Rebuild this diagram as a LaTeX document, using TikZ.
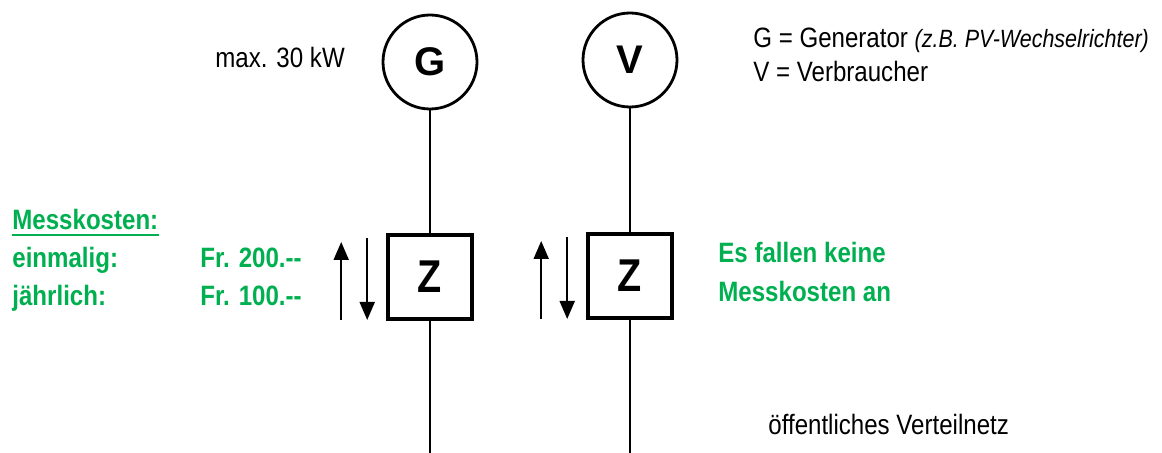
\documentclass[tikz,border=0pt]{standalone}
\usepackage{fontspec}
\setmainfont{Liberation Sans}[FakeStretch=0.86]
\newfontfamily\widefont{Liberation Sans}
\usetikzlibrary{arrows.meta}
\usetikzlibrary{calc}
\definecolor{costgreen}{HTML}{00B050}

\begin{document}
\begin{tikzpicture}[x=0.5pt, y=-0.5pt,
        device/.style={draw, circle, line width=1.4pt, minimum size=47pt, inner sep=0pt, font=\widefont\bfseries\fontsize{20}{20}\selectfont},
        meter/.style={draw, line width=1.8pt, minimum size=42pt, inner sep=0pt, font=\bfseries\fontsize{23}{23}\selectfont},
        note/.style={anchor=base west, inner sep=0pt, font=\fontsize{14}{14}\selectfont},
        cost/.style={note, text=costgreen, font=\bfseries\fontsize{14}{14}\selectfont},
        flow/.style={line width=1pt, -{Triangle[length=9pt,width=7.5pt]}}]
        \useasboundingbox (0,0) rectangle (1162,453);

        \node[device] (G) at (430,62) {G};
        \node[device] (V) at (630,60) {V};
        \node[meter] (ZG) at (430,277) {Z};
        \node[meter] (ZV) at (630,276) {Z};
        \coordinate (netG) at (430,453);
        \coordinate (netV) at (630,453);
        \draw[line width=0.7pt] (G) -- (ZG) -- (netG);
        \draw[line width=0.7pt] (V) -- (ZV) -- (netV);

        \foreach \z in {ZG,ZV} {
            \draw[flow] ($(\z.west)+(-45,43)$) -- ($(\z.west)+(-45,-35)$);
            \draw[flow] ($(\z.west)+(-19,-39)$) -- ($(\z.west)+(-19,43)$);
        }

        \node[note] (pmax) at (215,68) {max. 30 kW};
        \node[note] (legG) at (753,48) {G = Generator {\itshape\fontsize{12.5}{12.5}\selectfont (z.B. PV-Wechselrichter)}};
        \node[note] (legV) at (753,82) {V = Verbraucher};
        \node[note] (net) at (768,435) {öffentliches Verteilnetz};

        \node[cost] (mk) at (12,230) {Messkosten:};
        \draw[costgreen, line width=1.3pt] ($(mk.base west)+(0,5)$) -- ($(mk.base east)+(0,5)$);
        \node[cost] (once) at (12,268) {einmalig:};
        \node[cost] (year) at (12,306) {jährlich:};
        \node[cost] (oncefee) at (200,268) {Fr. 200.{-}{-}};
        \node[cost] (yearfee) at (200,306) {Fr. 100.{-}{-}};
        \node[cost] (nofee) at (718,263) {Es fallen keine};
        \node[cost] (nofee2) at (718,302) {Messkosten an};
    \end{tikzpicture}
\end{document}
